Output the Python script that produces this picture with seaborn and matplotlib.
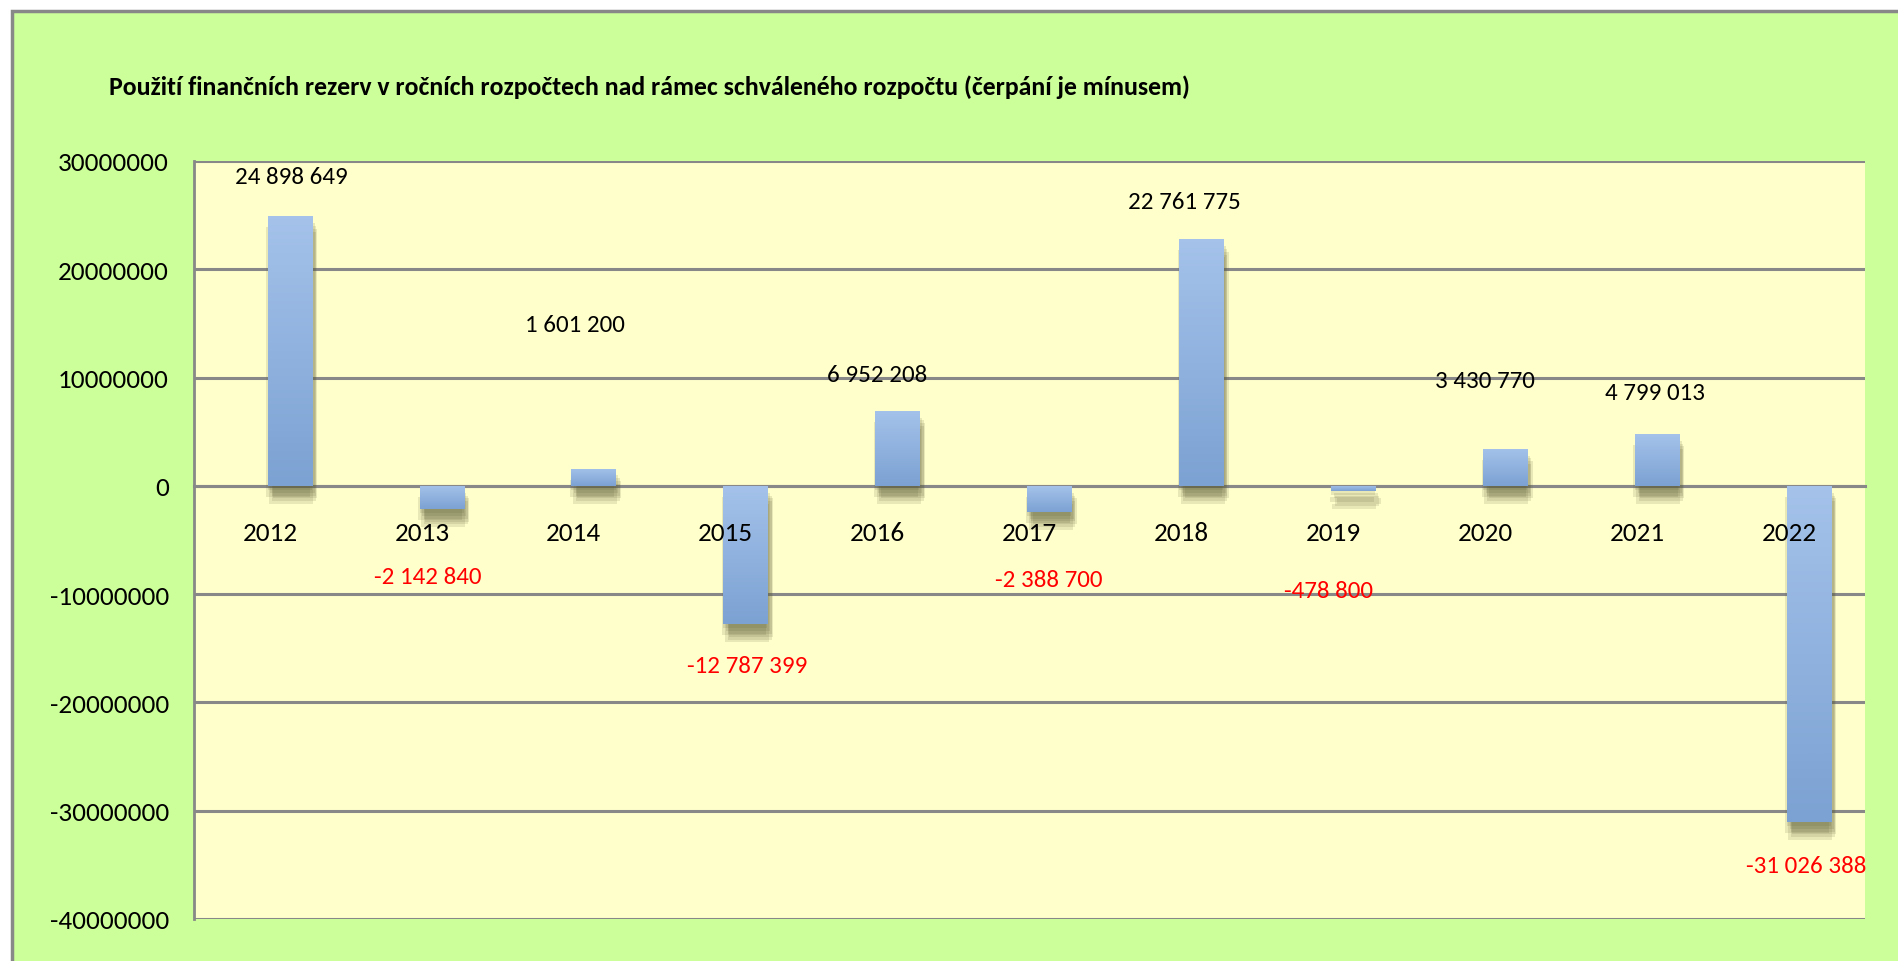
import matplotlib
matplotlib.use("Agg")
import matplotlib.pyplot as plt
import matplotlib.patheffects as pe
from matplotlib.patches import Rectangle
from matplotlib.colors import LinearSegmentedColormap
from matplotlib.ticker import FuncFormatter, FixedLocator
import numpy as np
import seaborn as sns
import pandas as pd

# data
years = ["2012", "2013", "2014", "2015", "2016", "2017", "2018", "2019", "2020", "2021", "2022"]
values = [24898649, -2142840, 1601200, -12787399, 6952208, -2388700,
          22761775, -478800, 3430770, 4799013, -31026388]
y_ticks = [-40000000, -30000000, -20000000, -10000000, 0, 10000000, 20000000, 30000000]
title = "Použití finančních rezerv v ročních rozpočtech nad rámec schváleného rozpočtu (čerpání je mínusem)"

# manual label placement as in the source (dx in categories, dy in data units)
label_dx = [0.14, 0.04, 0.01, 0.14, 0.0, 0.13, 0.02, -0.03, 0.0, 0.12, 0.11]
label_dy = [3.7e6, -6.2e6, 13.3e6, -3.8e6, 3.3e6, -6.3e6, 3.5e6, -9.2e6, 6.3e6, 3.8e6, -4.0e6]

sns.set_theme(style="white")
plt.rcParams["font.family"] = ["Carlito", "DejaVu Sans"]

df = pd.DataFrame({"year": years, "value": values})

fig = plt.figure(figsize=(18.99, 9.62), dpi=100)
fig.patch.set_facecolor("white")
# green chart area with grey border on top/left
fig.patches.append(Rectangle((12 / 1899, -0.1), 1.2, 1 - 12 / 962 + 0.1, transform=fig.transFigure,
                             facecolor="#CCFF99", edgecolor="#888888", linewidth=2.5, zorder=-5))

ax = fig.add_axes([194 / 1899, 42 / 962, 1671 / 1899, 758 / 962])
ax.set_facecolor("#FFFFCC")

sns.barplot(data=df, x="year", y="value", color="#8DB1DF", width=0.29, saturation=1,
            linewidth=0, ax=ax, zorder=3)

# soft shadow + top-to-bottom gradient like the excel bars
grad_cmap = LinearSegmentedColormap.from_list("bar", ["#7CA2D3", "#A4C2EA"])
grad = np.linspace(0, 1, 64).reshape(-1, 1)
shadow = [pe.SimplePatchShadow(offset=(dx, dy), shadow_rgbFace="#5e5e38", alpha=0.14)
          for dx, dy in [(0, -3), (2, -5), (3, -7), (4, -9), (3, -11), (1, -13), (-1, -8)]]
for p in list(ax.patches):
    p.set_x(p.get_x() + 0.13)
    p.set_path_effects(shadow + [pe.Normal()])
    x0, w = p.get_x(), p.get_width()
    y0, y1 = sorted([p.get_y(), p.get_y() + p.get_height()])
    im = ax.imshow(grad, cmap=grad_cmap, origin="lower", aspect="auto",
                   extent=[x0, x0 + w, y0, y1], zorder=3.5, interpolation="bilinear")
    im.set_clip_path(p)

ax.set_ylim(-40000000, 30000000)
ax.set_xlim(-0.5, len(years) - 0.5)
ax.set_yticks(y_ticks)
ax.yaxis.set_major_formatter(FuncFormatter(lambda v, _: f"{int(v)}"))
ax.grid(axis="y", color="#888888", linewidth=2.2, zorder=1)
ax.set_axisbelow(True)
ax.xaxis.set_zorder(5)

for side in ["top", "right"]:
    ax.spines[side].set_visible(False)
ax.spines["left"].set_color("#888888")
ax.spines["left"].set_linewidth(2)
ax.spines["bottom"].set_position(("data", 0))
ax.spines["bottom"].set_color("#888888")
ax.spines["bottom"].set_linewidth(2.2)

ax.tick_params(axis="y", length=8, width=2, color="#888888", pad=10, labelsize=19.5, labelcolor="black")
ax.tick_params(axis="x", which="major", length=0, pad=25, labelsize=19.5, labelcolor="black")
ax.xaxis.set_minor_locator(FixedLocator([i + 0.5 for i in range(len(years) - 1)]))
ax.tick_params(axis="x", which="minor", length=15, width=1.5, color="#888888", direction="out")
ax.set_xlabel("")
ax.set_ylabel("")

for i, v in enumerate(values):
    txt = f"{v:,}".replace(",", " ")
    ax.text(i + label_dx[i], v + label_dy[i], txt, ha="center", va="center", fontsize=18,
            color="black" if v >= 0 else "#FF0000", zorder=6, clip_on=False)

fig.text(109 / 1899, 1 - 87 / 962, title, ha="left", va="center", fontsize=18.5,
         fontweight="bold", color="black")

fig.savefig("out.png", dpi=100)
